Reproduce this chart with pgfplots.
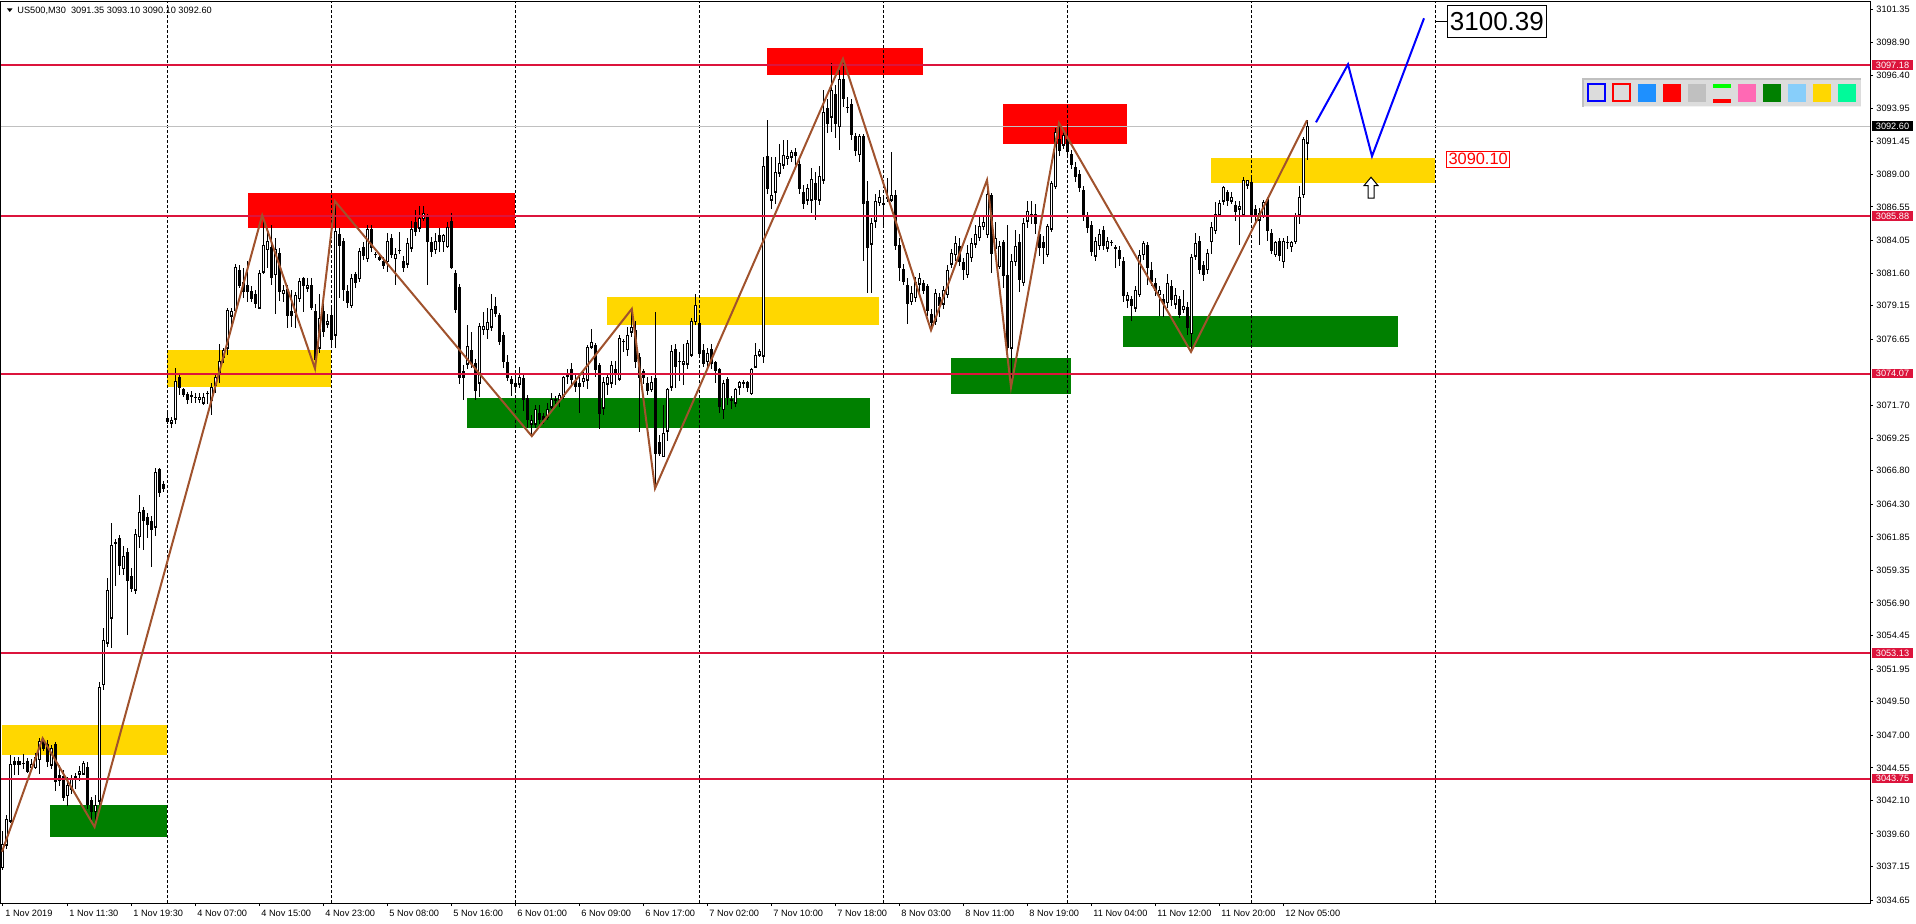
\documentclass[border=0pt]{standalone}
\usepackage{pgfplots}
\pgfplotsset{compat=1.18}
\usepackage{pgfplotstable}
\usepackage{fontspec}
\setmainfont{Liberation Sans}
\definecolor{crim}{HTML}{DC143C}
\definecolor{zgold}{HTML}{FFD700}
\definecolor{zgreen}{HTML}{008000}
\definecolor{zred}{HTML}{FF0000}
\definecolor{sienna}{HTML}{A0522D}
\definecolor{silverc}{HTML}{C0C0C0}
\definecolor{panelbg}{HTML}{DCDCDC}
\definecolor{dodger}{HTML}{1E90FF}
\definecolor{hotpink}{HTML}{FF69B4}
\definecolor{skyb}{HTML}{87CEFA}
\definecolor{springg}{HTML}{00FA9A}
\definecolor{limec}{HTML}{00FF00}
\newcommand\mtfont{\fontsize{4.6}{5.5}\selectfont}

\pgfplotstableread{
i o h l c
0 3037.1 3039.8 3036.9 3038.8
1 3038.8 3041.0 3038.5 3040.7
2 3040.6 3045.5 3040.4 3044.8
3 3045.0 3045.4 3044.0 3044.8
4 3045.0 3045.4 3044.0 3044.8
5 3044.9 3045.6 3044.5 3044.9
6 3045.0 3045.3 3044.2 3044.3
7 3044.6 3045.2 3044.3 3044.8
8 3044.6 3045.7 3044.5 3045.3
9 3045.2 3046.8 3044.1 3046.5
10 3046.5 3046.8 3045.8 3046.0
11 3046.3 3046.6 3044.6 3045.0
12 3044.8 3046.3 3044.5 3046.0
13 3046.3 3046.5 3042.8 3043.5
14 3044.0 3044.8 3043.2 3043.6
15 3043.9 3044.4 3042.1 3042.3
16 3042.5 3043.9 3041.7 3043.2
17 3043.0 3044.0 3042.6 3043.7
18 3043.9 3044.2 3043.0 3043.9
19 3044.1 3044.7 3043.6 3044.3
20 3044.1 3045.1 3044.0 3044.9
21 3044.6 3045.0 3041.5 3041.8
22 3042.1 3042.4 3040.6 3041.3
23 3041.3 3042.5 3040.1 3041.7
24 3042.1 3051.0 3041.8 3050.6
25 3050.8 3055.0 3050.4 3054.1
26 3053.9 3058.8 3053.6 3057.8
27 3055.8 3062.9 3053.5 3061.2
28 3061.4 3061.7 3058.2 3061.4
29 3061.7 3062.0 3059.0 3059.7
30 3059.5 3061.2 3059.0 3060.4
31 3060.7 3061.0 3054.5 3058.6
32 3058.9 3059.5 3057.7 3058.0
33 3057.9 3062.4 3057.6 3062.0
34 3061.9 3065.0 3061.0 3063.7
35 3063.8 3064.1 3060.9 3063.1
36 3063.3 3063.6 3061.8 3062.8
37 3063.0 3063.4 3059.6 3062.4
38 3062.6 3067.0 3061.9 3066.7
39 3066.9 3067.0 3064.8 3065.2
40 3065.8 3066.0 3065.2 3065.5
41 3070.7 3071.1 3070.3 3070.5
42 3070.4 3070.8 3070.0 3070.6
43 3070.7 3074.5 3070.3 3073.5
44 3073.8 3074.1 3072.5 3073.0
45 3072.9 3073.0 3072.3 3072.5
46 3072.5 3072.7 3071.8 3072.1
47 3072.4 3072.8 3071.9 3072.4
48 3072.3 3072.6 3071.9 3072.3
49 3072.2 3072.6 3071.9 3072.3
50 3071.9 3072.6 3071.7 3072.3
51 3072.6 3072.8 3071.8 3072.6
52 3072.1 3073.4 3071.0 3073.0
53 3073.2 3074.1 3072.6 3073.8
54 3074.1 3076.3 3073.4 3075.0
55 3075.3 3076.0 3074.9 3075.8
56 3076.0 3079.0 3075.5 3078.8
57 3078.4 3079.0 3077.4 3078.7
58 3078.8 3082.3 3078.6 3082.0
59 3081.8 3082.2 3080.5 3080.7
60 3080.9 3082.0 3079.7 3080.2
61 3080.7 3082.5 3079.4 3080.2
62 3080.2 3080.6 3079.4 3079.7
63 3080.0 3080.3 3079.0 3079.3
64 3079.0 3081.8 3078.9 3081.6
65 3081.7 3085.9 3081.5 3083.7
66 3083.4 3085.0 3082.0 3084.0
67 3083.5 3085.2 3080.7 3081.3
68 3081.5 3084.2 3078.5 3083.4
69 3083.1 3083.5 3079.5 3080.2
70 3080.1 3080.7 3079.4 3080.3
71 3080.4 3080.7 3077.5 3078.4
72 3078.7 3080.3 3077.6 3078.4
73 3078.7 3080.2 3077.5 3079.9
74 3079.7 3081.2 3079.4 3081.0
75 3081.2 3081.3 3078.7 3080.7
76 3080.5 3081.2 3080.2 3080.7
77 3080.7 3081.2 3078.8 3079.0
78 3078.7 3079.3 3074.4 3075.1
79 3076.0 3080.0 3075.6 3078.2
80 3078.7 3079.5 3076.8 3077.2
81 3077.8 3078.5 3077.5 3078.0
82 3078.4 3079.2 3076.2 3076.6
83 3077.0 3087.0 3076.0 3084.7
84 3084.5 3085.0 3079.7 3083.7
85 3084.0 3084.2 3079.5 3080.4
86 3080.2 3080.7 3079.0 3079.4
87 3079.2 3081.5 3079.0 3081.2
88 3081.5 3081.7 3080.5 3080.9
89 3081.2 3083.5 3080.9 3083.2
90 3083.5 3083.9 3082.6 3082.9
91 3082.7 3085.2 3082.4 3084.9
92 3084.9 3085.2 3083.2 3083.5
93 3083.0 3083.2 3082.7 3083.0
94 3082.8 3083.1 3082.5 3082.6
95 3082.5 3082.8 3081.9 3082.2
96 3082.5 3084.6 3081.7 3084.0
97 3084.2 3084.5 3082.7 3083.0
98 3082.7 3083.5 3080.7 3083.0
99 3083.3 3084.7 3083.0 3083.3
100 3082.5 3082.9 3081.7 3082.0
101 3082.3 3084.2 3082.0 3083.8
102 3083.5 3085.5 3083.2 3084.9
103 3085.4 3086.3 3084.4 3084.7
104 3085.0 3086.6 3084.7 3085.7
105 3085.7 3086.6 3085.5 3086.1
106 3085.8 3086.0 3080.7 3084.0
107 3083.9 3084.3 3082.8 3083.2
108 3083.4 3084.6 3083.0 3084.0
109 3084.4 3085.0 3083.2 3084.0
110 3084.0 3084.5 3083.2 3084.4
111 3083.6 3085.4 3083.5 3085.0
112 3085.5 3086.1 3081.9 3082.0
113 3081.6 3081.8 3078.6 3078.9
114 3080.5 3080.8 3073.3 3073.8
115 3074.2 3074.7 3072.1 3073.8
116 3074.8 3077.7 3074.4 3076.1
117 3075.8 3077.2 3074.5 3074.8
118 3074.8 3075.2 3072.1 3072.8
119 3073.4 3077.9 3072.3 3077.6
120 3077.4 3078.7 3077.0 3077.6
121 3077.4 3079.0 3076.7 3077.9
122 3077.6 3080.0 3077.3 3078.9
123 3079.1 3079.8 3078.3 3078.6
124 3078.4 3078.6 3076.2 3076.5
125 3076.9 3077.2 3074.5 3075.0
126 3074.9 3075.5 3073.5 3073.8
127 3073.6 3073.9 3072.4 3073.3
128 3073.3 3074.0 3072.8 3073.1
129 3073.3 3074.6 3073.0 3073.8
130 3073.7 3074.0 3071.3 3072.1
131 3072.2 3072.5 3070.0 3070.6
132 3070.3 3071.0 3069.4 3070.6
133 3070.3 3071.7 3070.0 3071.4
134 3071.1 3071.7 3070.3 3070.6
135 3070.9 3071.1 3070.3 3070.6
136 3070.8 3071.9 3070.6 3071.4
137 3071.6 3072.6 3071.4 3072.1
138 3072.1 3072.4 3071.8 3072.1
139 3072.1 3072.6 3071.6 3072.4
140 3072.4 3073.9 3072.2 3073.8
141 3073.9 3074.4 3073.3 3074.1
142 3074.4 3074.9 3073.1 3073.6
143 3073.5 3074.0 3072.7 3073.1
144 3073.3 3074.1 3071.1 3073.1
145 3073.5 3074.2 3073.1 3073.7
146 3073.6 3076.2 3072.9 3076.0
147 3076.1 3077.4 3075.9 3076.4
148 3076.2 3076.4 3073.8 3074.4
149 3074.7 3074.9 3069.9 3071.1
150 3071.5 3073.8 3071.0 3073.4
151 3073.3 3074.1 3072.5 3073.8
152 3073.4 3075.0 3073.0 3074.7
153 3074.4 3075.0 3073.2 3074.1
154 3073.7 3077.0 3073.5 3076.7
155 3076.5 3076.7 3075.7 3076.5
156 3075.9 3077.6 3075.4 3076.9
157 3077.2 3078.9 3076.8 3077.5
158 3077.3 3078.0 3074.5 3075.0
159 3075.3 3075.6 3069.7 3073.8
160 3074.2 3074.4 3073.3 3073.8
161 3073.3 3073.8 3072.5 3072.8
162 3072.9 3073.9 3072.7 3073.4
163 3073.7 3078.7 3065.5 3068.1
164 3068.9 3069.5 3067.9 3068.1
165 3067.9 3071.7 3067.8 3069.6
166 3069.8 3073.0 3069.0 3072.9
167 3073.1 3076.2 3072.8 3075.7
168 3075.9 3076.3 3073.0 3074.6
169 3075.0 3075.7 3073.5 3075.0
170 3074.8 3076.3 3073.2 3075.0
171 3074.8 3076.6 3074.4 3076.3
172 3075.5 3078.2 3075.3 3078.0
173 3078.0 3080.0 3077.7 3079.2
174 3077.8 3078.4 3075.3 3075.6
175 3075.8 3076.3 3074.6 3074.8
176 3075.0 3076.0 3074.4 3075.6
177 3075.9 3076.3 3074.4 3074.8
178 3074.9 3075.0 3073.4 3074.3
179 3074.4 3074.5 3071.1 3071.6
180 3071.4 3073.6 3070.7 3073.3
181 3073.6 3073.8 3071.7 3072.3
182 3072.1 3072.4 3071.4 3072.1
183 3071.9 3073.0 3071.6 3072.9
184 3073.1 3073.5 3072.5 3073.4
185 3073.4 3073.6 3073.0 3073.4
186 3073.4 3073.5 3072.7 3073.0
187 3072.6 3074.5 3072.5 3074.4
188 3074.6 3076.4 3074.5 3075.4
189 3075.5 3075.9 3075.3 3075.7
190 3075.4 3090.3 3074.9 3089.6
191 3090.3 3093.1 3087.5 3087.9
192 3087.1 3090.3 3086.4 3087.4
193 3087.7 3090.3 3086.8 3089.1
194 3089.1 3091.3 3088.8 3089.8
195 3089.7 3091.6 3089.4 3090.4
196 3090.2 3091.6 3089.7 3090.3
197 3090.3 3090.8 3089.9 3090.6
198 3090.6 3091.0 3089.7 3090.4
199 3089.7 3090.1 3087.5 3087.9
200 3087.6 3088.2 3086.4 3086.8
201 3087.1 3088.3 3086.7 3087.9
202 3087.1 3089.5 3086.1 3088.6
203 3088.3 3089.2 3085.6 3087.1
204 3087.1 3089.6 3086.7 3088.8
205 3088.6 3095.3 3088.3 3093.6
206 3093.9 3094.6 3092.1 3092.8
207 3093.3 3097.3 3092.2 3095.3
208 3095.0 3095.7 3091.7 3092.8
209 3092.6 3096.8 3090.8 3096.1
210 3096.1 3097.65 3094.0 3094.7
211 3094.0 3094.8 3093.6 3094.0
212 3094.2 3094.6 3091.6 3092.0
213 3091.8 3092.1 3090.4 3090.8
214 3090.5 3092.0 3089.9 3091.8
215 3091.8 3092.0 3082.5 3086.8
216 3087.0 3088.5 3080.1 3083.5
217 3083.8 3085.7 3080.1 3085.3
218 3085.5 3087.5 3085.0 3087.0
219 3086.9 3087.8 3086.6 3087.3
220 3086.8 3087.3 3085.0 3086.8
221 3087.2 3088.7 3086.9 3087.3
222 3087.1 3090.7 3086.9 3087.4
223 3087.4 3087.8 3083.3 3083.7
224 3083.7 3084.2 3081.0 3082.0
225 3081.9 3082.3 3080.7 3081.0
226 3080.7 3081.2 3077.8 3079.3
227 3079.5 3080.6 3079.2 3080.1
228 3079.8 3081.3 3079.4 3080.9
229 3080.8 3081.6 3080.0 3081.2
230 3080.8 3081.1 3080.0 3080.3
231 3080.6 3080.8 3078.4 3078.8
232 3078.5 3078.9 3077.4 3077.9
233 3078.0 3080.4 3077.7 3080.1
234 3079.8 3080.1 3078.3 3079.2
235 3079.3 3080.6 3078.9 3080.3
236 3080.0 3082.2 3079.7 3081.8
237 3082.3 3083.4 3082.0 3083.1
238 3083.0 3084.4 3082.5 3083.8
239 3083.6 3084.2 3082.1 3082.5
240 3082.4 3082.7 3081.1 3081.9
241 3081.5 3083.7 3081.2 3083.1
242 3082.8 3084.2 3082.4 3083.8
243 3083.8 3085.2 3083.5 3084.5
244 3084.3 3085.8 3084.0 3085.1
245 3085.1 3085.8 3084.8 3085.4
246 3084.5 3088.6 3084.2 3087.5
247 3087.4 3087.6 3081.6 3083.1
248 3083.5 3085.4 3083.0 3084.2
249 3082.1 3084.0 3081.9 3083.6
250 3083.9 3084.1 3080.5 3081.4
251 3081.4 3085.2 3075.5 3076.0
252 3076.0 3083.0 3073.05 3082.5
253 3082.5 3084.8 3082.1 3083.6
254 3083.9 3084.5 3080.2 3081.1
255 3080.9 3085.7 3080.6 3085.3
256 3085.5 3087.0 3085.0 3086.2
257 3086.0 3087.0 3085.3 3085.8
258 3086.0 3086.8 3084.5 3085.3
259 3084.5 3085.0 3082.9 3083.5
260 3083.9 3084.4 3082.3 3083.5
261 3083.0 3085.3 3082.8 3085.1
262 3084.9 3088.5 3084.7 3088.3
263 3088.1 3092.5 3087.9 3092.1
264 3091.6 3092.84 3090.4 3090.8
265 3091.2 3092.3 3090.9 3091.9
266 3091.6 3092.8 3090.4 3090.7
267 3090.5 3090.8 3089.4 3089.7
268 3089.5 3089.9 3088.4 3088.8
269 3089.0 3089.3 3087.7 3088.0
270 3087.8 3088.1 3085.5 3085.9
271 3085.9 3086.2 3084.6 3085.0
272 3085.2 3085.5 3082.9 3083.2
273 3082.9 3084.3 3082.5 3084.0
274 3083.7 3084.9 3083.3 3084.5
275 3084.8 3085.1 3083.3 3083.7
276 3083.5 3084.3 3083.2 3084.0
277 3083.9 3084.1 3083.6 3083.9
278 3083.5 3083.7 3082.0 3083.5
279 3083.3 3083.6 3082.1 3082.7
280 3082.5 3082.8 3079.4 3079.9
281 3079.6 3080.2 3079.0 3079.9
282 3079.6 3079.9 3078.0 3079.2
283 3079.0 3080.6 3078.7 3080.3
284 3080.0 3083.3 3079.8 3082.9
285 3083.0 3084.0 3082.6 3083.8
286 3083.7 3083.9 3080.7 3082.0
287 3081.8 3082.4 3080.6 3081.0
288 3080.8 3081.2 3079.9 3080.3
289 3080.0 3080.6 3078.4 3080.3
290 3079.6 3080.0 3078.3 3079.3
291 3079.4 3081.5 3079.0 3080.8
292 3080.6 3081.1 3079.1 3079.6
293 3079.3 3080.5 3078.9 3079.9
294 3079.6 3079.9 3078.2 3078.5
295 3078.9 3080.3 3078.6 3079.1
296 3079.0 3079.4 3077.0 3077.5
297 3077.1 3083.0 3075.7 3082.8
298 3082.9 3084.6 3082.6 3083.8
299 3084.0 3084.4 3081.5 3081.9
300 3082.2 3082.5 3081.0 3081.5
301 3081.9 3083.4 3081.5 3083.1
302 3084.0 3085.4 3083.0 3085.0
303 3084.8 3086.9 3084.5 3086.0
304 3086.0 3087.1 3085.8 3086.8
305 3087.0 3088.1 3086.7 3088.0
306 3087.6 3087.8 3086.6 3087.0
307 3087.0 3087.7 3086.8 3087.3
308 3086.7 3087.0 3085.5 3086.2
309 3086.4 3087.0 3083.7 3086.6
310 3086.0 3088.8 3085.8 3088.5
311 3088.2 3088.6 3087.9 3088.5
312 3088.4 3088.7 3085.6 3086.0
313 3086.4 3086.7 3085.2 3085.9
314 3085.6 3086.5 3083.7 3086.1
315 3085.9 3087.1 3085.7 3086.9
316 3087.1 3087.3 3084.0 3084.8
317 3084.6 3084.9 3083.0 3083.3
318 3083.0 3084.0 3082.8 3083.9
319 3084.0 3084.2 3082.5 3082.9
320 3082.5 3084.2 3082.0 3084.0
321 3083.9 3084.4 3083.4 3083.9
322 3083.6 3084.0 3083.2 3083.9
323 3084.0 3086.1 3083.8 3085.9
324 3086.0 3088.1 3085.3 3087.3
325 3087.5 3091.8 3087.2 3091.6
326 3091.35 3093.10 3090.10 3092.60
}\candles

\begin{document}
\begin{tikzpicture}
\begin{axis}[
  scale only axis, width=934.5pt, height=450.5pt,
  xmin=-0.5, xmax=466.75, ymin=3034.43, ymax=3101.90,
  clip=false,
  axis line style={black, line width=0.5pt},
  tick style={black, line width=0.5pt},
  tick align=outside,
  major tick length=1.5pt,
  xtick pos=left, ytick pos=right, yticklabel pos=right,
  xtick={0,16,...,320},
  xticklabels={1 Nov 2019,1 Nov 11:30,1 Nov 19:30,4 Nov 07:00,4 Nov 15:00,4 Nov 23:00,5 Nov 08:00,5 Nov 16:00,6 Nov 01:00,6 Nov 09:00,6 Nov 17:00,7 Nov 02:00,7 Nov 10:00,7 Nov 18:00,8 Nov 03:00,8 Nov 11:00,8 Nov 19:00,11 Nov 04:00,11 Nov 12:00,11 Nov 20:00,12 Nov 05:00},
  xticklabel style={anchor=north west, font=\mtfont, inner sep=0pt, xshift=1pt, yshift=-2pt},
  ytick={3101.35,3098.90,3096.40,3093.95,3091.45,3089.00,3086.55,3084.05,3081.60,3079.15,3076.65,3071.70,3069.25,3066.80,3064.30,3061.85,3059.35,3056.90,3054.45,3051.95,3049.50,3047.00,3044.55,3042.10,3039.60,3037.15,3034.65},
  yticklabels={3101.35,3098.90,3096.40,3093.95,3091.45,3089.00,3086.55,3084.05,3081.60,3079.15,3076.65,3071.70,3069.25,3066.80,3064.30,3061.85,3059.35,3056.90,3054.45,3051.95,3049.50,3047.00,3044.55,3042.10,3039.60,3037.15,3034.65},
  yticklabel style={anchor=west, font=\mtfont, inner sep=0pt, xshift=1.5pt},
]
% zones
\fill[zgold] (axis cs:-0.25,3045.53) rectangle (axis cs:41,3047.73);
\fill[zgreen] (axis cs:11.75,3039.40) rectangle (axis cs:41,3041.77);
\fill[zgold] (axis cs:41,3073.10) rectangle (axis cs:82,3075.85);
\fill[zred] (axis cs:61.25,3084.98) rectangle (axis cs:128,3087.58);
\fill[zgreen] (axis cs:116,3070.00) rectangle (axis cs:216.75,3072.23);
\fill[zgold] (axis cs:151,3077.72) rectangle (axis cs:219,3079.79);
\fill[zred] (axis cs:191,3096.43) rectangle (axis cs:230,3098.43);
\fill[zgreen] (axis cs:237,3072.55) rectangle (axis cs:267,3075.22);
\fill[zred] (axis cs:250,3091.27) rectangle (axis cs:281,3094.24);
\fill[zgreen] (axis cs:280,3076.07) rectangle (axis cs:348.75,3078.37);
\fill[zgold] (axis cs:302,3088.35) rectangle (axis cs:358,3090.20);
% dashed separators
\pgfplotsinvokeforeach{41,82,128,174,220,266,312,358}{
  \draw[black, line width=0.5pt, dash pattern=on 1.5pt off 1pt] (axis cs:#1,3034.43) -- (axis cs:#1,3101.90);
}
% bid line
\addplot[silverc, line width=0.5pt, forget plot] coordinates {(-0.5,3092.60) (466.75,3092.60)};
% wicks
\addplot[draw=none, mark=none, forget plot,
  error bars/.cd, y dir=both, y explicit, error mark=none,
  error bar style={line width=0.5pt, draw=black}]
  table[x=i, y=o,
    y error plus expr={max(\thisrow{h},\thisrow{o},\thisrow{c})-\thisrow{o}},
    y error minus expr={\thisrow{o}-min(\thisrow{l},\thisrow{o},\thisrow{c})}] {\candles};
% bodies
\addplot[draw=none, mark=none, forget plot,
  error bars/.cd, y dir=both, y explicit, error mark=none,
  error bar style={line width=1.5pt, draw=black}]
  table[x=i, y=o,
    y error plus expr={max(\thisrow{c}-\thisrow{o},0)+0.035},
    y error minus expr={max(\thisrow{o}-\thisrow{c},0)+0.035}] {\candles};
\addplot[draw=none, mark=none, forget plot,
  error bars/.cd, y dir=plus, y explicit, error mark=none,
  error bar style={line width=0.5pt, draw=white}]
  table[x=i, y expr={\thisrow{o}+0.04},
    y error plus expr={max(\thisrow{c}-\thisrow{o}-0.08,0)},
    y error minus expr={0}] {\candles};
% horizontal levels
\addplot[crim, line width=1pt, forget plot] coordinates {(-0.5,3097.18) (466.75,3097.18)};
\addplot[crim, line width=1pt, forget plot] coordinates {(-0.5,3085.88) (466.75,3085.88)};
\addplot[crim, line width=1pt, forget plot] coordinates {(-0.5,3074.07) (466.75,3074.07)};
\addplot[crim, line width=1pt, forget plot] coordinates {(-0.5,3053.13) (466.75,3053.13)};
\addplot[crim, line width=1pt, forget plot] coordinates {(-0.5,3043.75) (466.75,3043.75)};
% zigzag
\addplot[sienna, line width=1pt, forget plot] coordinates {
(-0.25,3038.27) (9.9,3046.76) (22.9,3040.12) (64.8,3085.93) (78,3074.45) (83,3086.98)
(132.2,3069.39) (157.2,3078.92) (163,3065.47) (210,3097.65) (232,3077.32) (246,3088.57)
(252,3073.05) (264,3092.84) (297,3075.70) (326,3093.04)};
% projection
\addplot[blue, line width=1pt, forget plot] coordinates {(328.25,3092.89) (336.25,3097.23) (342.25,3090.35) (355.25,3100.68)};
% arrow
\coordinate (AR) at (axis cs:342,3088.0);
\draw[black, fill=white, line width=0.5pt, shift={(AR)}] (0pt,5.2pt) -- (3.5pt,1pt) -- (1.5pt,1pt) -- (1.5pt,-5.2pt) -- (-1.5pt,-5.2pt) -- (-1.5pt,1pt) -- (-3.5pt,1pt) -- cycle;
% price tags
\node[draw=zred, fill=white, text=zred, font=\fontsize{8.2}{9}\selectfont, inner sep=1pt, line width=0.5pt, anchor=west] at (axis cs:360.75,3090.12) {3090.10};
\draw[black, line width=0.5pt] (axis cs:358,3100.45) -- (axis cs:361,3100.45);
\node[draw=black, fill=white, font=\fontsize{13}{14}\selectfont, inner sep=1.2pt, minimum height=16pt, line width=0.5pt, anchor=west] at (axis cs:361,3100.45) {3100.39};
% coordinates for later
\coordinate (O) at (rel axis cs:0,1);
\coordinate (R1) at (axis cs:466.75,3097.18);
\coordinate (R2) at (axis cs:466.75,3085.88);
\coordinate (R3) at (axis cs:466.75,3074.07);
\coordinate (R4) at (axis cs:466.75,3053.13);
\coordinate (R5) at (axis cs:466.75,3043.75);
\coordinate (RB) at (axis cs:466.75,3092.60);
\end{axis}
% right-axis tags
\foreach \n/\t in {R1/3097.18,R2/3085.88,R3/3074.07,R4/3053.13,R5/3043.75}{
  \node[fill=crim, text=white, font=\mtfont, inner sep=0pt, minimum width=20.5pt, minimum height=4.8pt, anchor=west] at ([xshift=0.8pt]\n) {\t};
}
\node[fill=black, text=white, font=\mtfont, inner sep=0pt, minimum width=20.5pt, minimum height=4.8pt, anchor=west] at ([xshift=0.8pt]RB) {3092.60};
% pixel scope
\coordinate (P0) at ([shift={(-0.5pt,1pt)}]O);
\begin{scope}[shift={(P0)}, x=0.5pt, y=-0.5pt]
  \fill[black] (7,8.5) -- (12.5,8.5) -- (9.75,12) -- cycle;
  \node[anchor=west, font=\mtfont, inner sep=0pt] at (17,10.7) {US500,M30~~3091.35 3093.10 3090.10 3092.60};
  % toolbar panel
  \fill[panelbg] (1582,78) rectangle (1861,107);
  \fill[silverc] (1582,78) rectangle (1861,80);
  \fill[silverc] (1582,78) rectangle (1584,107);
  \fill[white!95!black] (1584,106) rectangle (1861,107);
  \draw[blue, line width=0.75pt] (1588,84) rectangle (1605,101);
  \draw[zred, line width=0.75pt] (1613,84) rectangle (1630,101);
  \fill[dodger] (1638,84) rectangle (1656,102);
  \fill[zred] (1663,84) rectangle (1681,102);
  \fill[silverc] (1688,84) rectangle (1706,102);
  \fill[limec] (1713,84) rectangle (1731,88);
  \fill[zred] (1713,99) rectangle (1731,103);
  \fill[hotpink] (1738,84) rectangle (1756,102);
  \fill[zgreen] (1763,84) rectangle (1781,102);
  \fill[skyb] (1788,84) rectangle (1806,102);
  \fill[zgold] (1813,84) rectangle (1831,102);
  \fill[springg] (1838,84) rectangle (1856,102);
\end{scope}
\pgfresetboundingbox
\path[use as bounding box] (P0) rectangle ++(958pt,-461.5pt);
\end{tikzpicture}
\end{document}
